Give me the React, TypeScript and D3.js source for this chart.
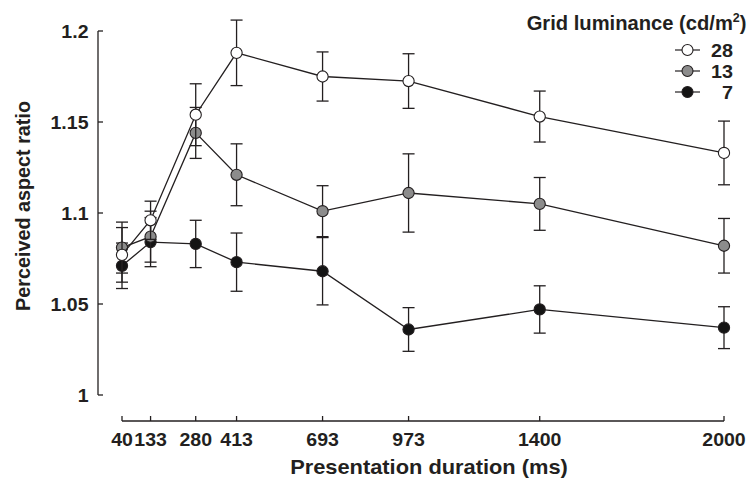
import React from "react";
import * as d3 from "d3";

const durations = [40, 133, 280, 413, 693, 973, 1400, 2000];
const yTicks = [1, 1.05, 1.1, 1.15, 1.2];
const yTickLabels = ["1", "1.05", "1.1", "1.15", "1.2"];

const seriesNames = ["28", "13", "7"];
const seriesFills = ["#ffffff", "#8c8c8c", "#141414"];

const mean28 = [1.077, 1.096, 1.154, 1.188, 1.175, 1.1725, 1.153, 1.133];
const err28 = [0.015, 0.0105, 0.017, 0.018, 0.0135, 0.015, 0.014, 0.0175];
const mean13 = [1.081, 1.087, 1.144, 1.121, 1.101, 1.111, 1.105, 1.082];
const err13 = [0.014, 0.014, 0.014, 0.017, 0.014, 0.0215, 0.0145, 0.015];
const mean7 = [1.071, 1.084, 1.083, 1.073, 1.068, 1.036, 1.047, 1.037];
const err7 = [0.0125, 0.0135, 0.013, 0.016, 0.0185, 0.012, 0.013, 0.0115];

const means = [mean28, mean13, mean7];
const errs = [err28, err13, err7];

const SX = 1.04;

function T(props: { x: number; y: number; anchor?: string; size: number; children: React.ReactNode }) {
  return (
    <text
      transform={`translate(${props.x},${props.y}) scale(${SX},1)`}
      textAnchor={props.anchor || "start"}
      fontSize={props.size}
      fontWeight="bold"
      fill="#231f20"
    >
      {props.children}
    </text>
  );
}

export default function App() {
  const W = 750, H = 485;
  const x = d3.scaleLinear().domain([40, 2000]).range([122, 724]);
  const y = d3.scaleLinear().domain([1, 1.2]).range([395, 31]);
  const line = d3.line<number>().x((_, i) => x(durations[i])).y((d) => y(d));
  const font = "'Liberation Sans', Arial, sans-serif";
  const ink = "#231f20";
  const drawOrder = [2, 1, 0];

  return (
    <svg width={W} height={H} style={{ position: "absolute", left: 0, top: 0, background: "#fff" }} fontFamily={font}>
      {/* y axis */}
      <line x1={98} x2={98} y1={y(1.2)} y2={y(1)} stroke={ink} strokeWidth={1.3} />
      {yTicks.map((t, i) => (
        <g key={t}>
          <line x1={98} x2={103} y1={y(t)} y2={y(t)} stroke={ink} strokeWidth={1.3} />
          <T x={88.5} y={y(t) + 6.7} anchor="end" size={18.8}>
            {yTickLabels[i]}
          </T>
        </g>
      ))}
      {/* x axis */}
      <line x1={x(40)} x2={x(2000)} y1={421} y2={421} stroke={ink} strokeWidth={1.3} />
      {durations.map((d) => (
        <g key={d}>
          <line x1={x(d)} x2={x(d)} y1={421} y2={416} stroke={ink} strokeWidth={1.3} />
          <T x={x(d)} y={445.5} anchor="middle" size={18.8}>
            {d}
          </T>
        </g>
      ))}
      <T x={429} y={473.5} anchor="middle" size={21}>
        Presentation duration (ms)
      </T>
      <text transform={`translate(30,206) rotate(-90)`} textAnchor="middle" fontSize={19.8} fontWeight="bold" fill={ink}>
        Perceived aspect ratio
      </text>

      {/* series */}
      {drawOrder.map((s) => (
        <g key={s}>
          <path d={line(means[s]) || ""} fill="none" stroke={ink} strokeWidth={1.3} />
          {means[s].map((m, i) => {
            const cx = x(durations[i]);
            const t = y(m + errs[s][i]);
            const b = y(m - errs[s][i]);
            return (
              <g key={i}>
                <line x1={cx} x2={cx} y1={t} y2={b} stroke={ink} strokeWidth={1.3} />
                <line x1={cx - 6} x2={cx + 6} y1={t} y2={t} stroke={ink} strokeWidth={1.3} />
                <line x1={cx - 6} x2={cx + 6} y1={b} y2={b} stroke={ink} strokeWidth={1.3} />
              </g>
            );
          })}
          {means[s].map((m, i) => (
            <circle key={"c" + i} cx={x(durations[i])} cy={y(m)} r={5.6} fill={seriesFills[s]} stroke={ink} strokeWidth={1.1} />
          ))}
        </g>
      ))}

      {/* legend */}
      <T x={746.5} y={29.5} anchor="end" size={19.4}>
        Grid luminance (cd/m<tspan fontSize={12} dy={-7.5}>2</tspan><tspan dy={7.5}>)</tspan>
      </T>
      {seriesNames.map((n, i) => (
        <g key={n}>
          <line x1={675} x2={700} y1={50 + i * 21} y2={50 + i * 21} stroke={ink} strokeWidth={1.2} />
          <circle cx={687.5} cy={50 + i * 21} r={5.5} fill={seriesFills[i]} stroke={ink} strokeWidth={1.1} />
          <T x={733} y={50 + i * 21 + 6.6} anchor="end" size={19}>
            {n}
          </T>
        </g>
      ))}
    </svg>
  );
}
